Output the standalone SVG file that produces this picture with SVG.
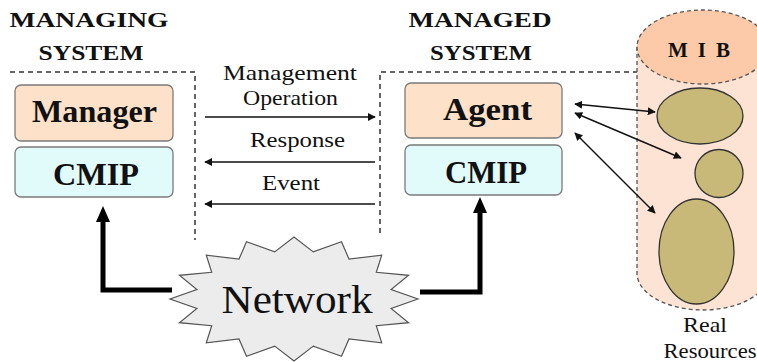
<svg xmlns="http://www.w3.org/2000/svg" width="757" height="362" viewBox="0 0 757 362">
  <style>
    text { font-family: "Liberation Serif", "Times New Roman", serif; fill: #111; }
    .title { font-size: 21px; font-weight: bold; }
    .boxtxt { font-size: 32px; font-weight: bold; }
    .lbl { font-size: 22px; }
    .res-lbl { font-size: 21px; }
    .net { font-size: 40px; }
    .peach { fill: #fde1c9; stroke: #7a7a7a; stroke-width: 1.3; }
    .cyan { fill: #e1fafa; stroke: #7a7a7a; stroke-width: 1.3; }
    .dash { fill: none; stroke: #333; stroke-width: 1.5; stroke-dasharray: 5 4; }
    .mibdash { stroke: #555; stroke-width: 1.3; stroke-dasharray: 4 3; }
    .thin { fill: none; stroke: #111; stroke-width: 1.4; }
    .thick { fill: none; stroke: #000; stroke-width: 5; stroke-linejoin: miter; }
    .res { fill: #c9b978; stroke: #333; stroke-width: 1.3; }
  </style>
  <defs>
    <marker id="ah" viewBox="0 0 10 10" refX="9" refY="5" markerWidth="8" markerHeight="8" markerUnits="userSpaceOnUse" orient="auto-start-reverse">
      <path d="M0,0 L10,5 L0,10 Z" fill="#111"/>
    </marker>
  </defs>

  <g id="boundaries">
    <path class="dash" d="M10,72 H195 V240"/>
    <path class="dash" d="M380,233 V72 H637"/>
  </g>

  <g id="managing-system">
    <text class="title" x="89" y="27" text-anchor="middle" textLength="159" lengthAdjust="spacingAndGlyphs">MANAGING</text>
    <text class="title" x="91" y="60" text-anchor="middle" textLength="105" lengthAdjust="spacingAndGlyphs">SYSTEM</text>
  </g>
  <g id="managed-system">
    <text class="title" x="480" y="27" text-anchor="middle" textLength="143" lengthAdjust="spacingAndGlyphs">MANAGED</text>
    <text class="title" x="481" y="60" text-anchor="middle" textLength="102" lengthAdjust="spacingAndGlyphs">SYSTEM</text>
  </g>

  <g id="manager">
    <rect class="peach" x="15" y="85" width="158" height="56" rx="6"/>
    <text class="boxtxt" x="94.5" y="122" text-anchor="middle" textLength="125" lengthAdjust="spacingAndGlyphs">Manager</text>
  </g>
  <g id="cmip-left">
    <rect class="cyan" x="15" y="147" width="158" height="50" rx="6"/>
    <text class="boxtxt" x="96" y="185" text-anchor="middle" textLength="86" lengthAdjust="spacingAndGlyphs">CMIP</text>
  </g>
  <g id="agent">
    <rect class="peach" x="405" y="83" width="157" height="55" rx="6"/>
    <text class="boxtxt" x="487.5" y="120" text-anchor="middle" textLength="89" lengthAdjust="spacingAndGlyphs">Agent</text>
  </g>
  <g id="cmip-right">
    <rect class="cyan" x="405" y="145" width="157" height="50" rx="6"/>
    <text class="boxtxt" x="486" y="183" text-anchor="middle" textLength="82" lengthAdjust="spacingAndGlyphs">CMIP</text>
  </g>

  <g id="mib">
    <path d="M637,47 V273 A66,37 0 0 0 769,273 V47 Z" fill="#fde3d3" stroke="none"/>
    <path class="mibdash" d="M637,47 V273 A66,37 0 0 0 769,273" fill="none"/>
    <ellipse class="mibdash" cx="703" cy="47" rx="66" ry="37" fill="#fccaa8"/>
    <text class="title" x="699" y="57" text-anchor="middle" textLength="62">M I B</text>
    <ellipse class="res" cx="700" cy="116" rx="43" ry="28"/>
    <circle class="res" cx="719" cy="173.5" r="24"/>
    <ellipse class="res" cx="696.5" cy="251.5" rx="37.5" ry="52.5"/>
  </g>
  <g id="real-resources">
    <text class="res-lbl" x="705" y="332" text-anchor="middle" textLength="44" lengthAdjust="spacingAndGlyphs">Real</text>
    <text class="res-lbl" x="710" y="358" text-anchor="middle" textLength="93" lengthAdjust="spacingAndGlyphs">Resources</text>
  </g>

  <g id="network">
    <polygon fill="#ececec" stroke="#555" stroke-width="1.2" points="418,299 391.1,308.4 408.6,322.7 376.3,325.7 381.7,342.8 349,338.9 341.5,356.3 313.3,346.1 294,361 274.7,346.1 246.5,356.3 239,338.9 206.3,342.8 211.7,325.7 179.4,322.7 196.9,308.4 170,299 196.9,289.6 179.4,275.3 211.7,272.3 206.3,255.2 239,259.1 246.5,241.7 274.7,251.9 294,237 313.3,251.9 341.5,241.7 349,259.1 381.7,255.2 376.3,272.3 408.6,275.3 391.1,289.6"/>
    <text class="net" x="297" y="313" text-anchor="middle" textLength="151" lengthAdjust="spacingAndGlyphs">Network</text>
  </g>

  <g id="connectors">
    <text class="lbl" x="290" y="80" text-anchor="middle" textLength="134" lengthAdjust="spacingAndGlyphs">Management</text>
    <text class="lbl" x="290.5" y="105" text-anchor="middle" textLength="95" lengthAdjust="spacingAndGlyphs">Operation</text>
    <line class="thin" x1="205" y1="117" x2="375" y2="117" marker-end="url(#ah)"/>
    <text class="lbl" x="297.5" y="147" text-anchor="middle" textLength="95" lengthAdjust="spacingAndGlyphs">Response</text>
    <line class="thin" x1="375" y1="162" x2="205" y2="162" marker-end="url(#ah)"/>
    <text class="lbl" x="291" y="190" text-anchor="middle" textLength="58" lengthAdjust="spacingAndGlyphs">Event</text>
    <line class="thin" x1="375" y1="204" x2="205" y2="204" marker-end="url(#ah)"/>

    <line class="thin" x1="575" y1="104" x2="655" y2="112" marker-start="url(#ah)" marker-end="url(#ah)"/>
    <line class="thin" x1="575" y1="113" x2="681" y2="158" marker-start="url(#ah)" marker-end="url(#ah)"/>
    <line class="thin" x1="575" y1="133" x2="655" y2="213" marker-start="url(#ah)" marker-end="url(#ah)"/>

    <path class="thick" d="M172,290 H103 V220"/>
    <polygon points="103,206 96,222 110,222" fill="#000"/>
    <path class="thick" d="M420,292 H480 V211"/>
    <polygon points="480,197 473,213 487,213" fill="#000"/>
  </g>
</svg>
